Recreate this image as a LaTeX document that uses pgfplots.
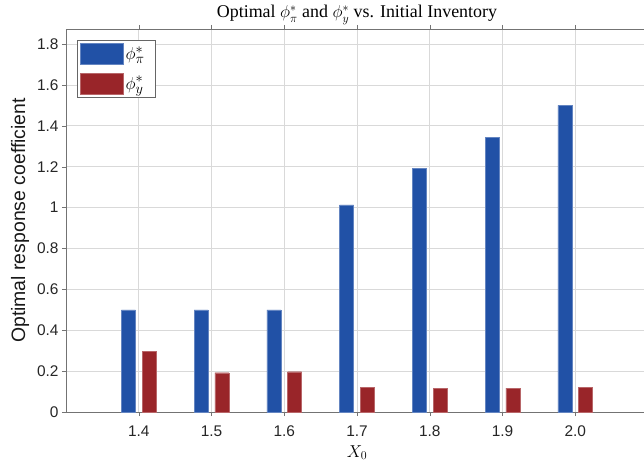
\documentclass[border=0pt]{standalone}
\usepackage{fontspec}
\setmainfont{Liberation Serif}
\setsansfont{Liberation Sans}
\usepackage{pgfplots}
\pgfplotsset{compat=1.18}
\definecolor{barblue}{RGB}{33,81,166}
\definecolor{barred}{RGB}{153,37,41}
\begin{document}
\begin{tikzpicture}
\begin{axis}[
  scale only axis, width=582bp, height=383bp,
  xmin=1.3, xmax=2.1, ymin=0, ymax=1.873,
  axis y line*=left,
  axis line style={black!55},
  tick align=outside, major tick length=4bp,
  tick style={black!55},
  xtick={1.4,1.5,1.6,1.7,1.8,1.9,2.0},
  xticklabels={1.4,1.5,1.6,1.7,1.8,1.9,2.0},
  ytick={0,0.2,0.4,0.6,0.8,1,1.2,1.4,1.6,1.8},
  yticklabels={0,0.2,0.4,0.6,0.8,1,1.2,1.4,1.6,1.8},
  grid=major, grid style={black!15, line width=0.6pt},
  tick label style={font=\sffamily\fontsize{15.5}{16}\selectfont, text=black!85},
  xticklabel style={yshift=-6bp},
  ylabel={Optimal response coefficient},
  ylabel style={at={(axis description cs:0,0.5)}, anchor=center, yshift=46bp, font=\sffamily\fontsize{19.5}{19.5}\selectfont, text=black!90},
  xlabel={$X_0$},
  xlabel style={font=\fontsize{18}{18}\selectfont, yshift=-2bp},
  title={Optimal $\phi^*_\pi$ and $\phi^*_y$ vs. Initial Inventory},
  title style={font=\fontsize{18}{18}\selectfont, yshift=-5bp},
  ybar=0pt, bar width=0.0192,
  legend style={at={(axis description cs:0,1)}, anchor=north west, xshift=11bp, yshift=-11bp,
    draw=black!60, fill=white, font=\fontsize{19}{19}\selectfont, row sep=8bp,
    inner xsep=3bp, inner ysep=3bp},
  legend cell align=left,
  legend image code/.code={\fill[#1] (0bp,-10.5bp) rectangle (43bp,10.5bp);},
]
\addplot[fill=barblue, draw=barblue!70!white, bar shift=-0.0143] coordinates {
  (1.4,0.500) (1.5,0.500) (1.6,0.500) (1.7,1.013) (1.8,1.190) (1.9,1.343) (2.0,1.500)};
\addlegendentry{$\phi^*_\pi\kern6bp$}
\addplot[fill=barred, draw=barred!70!white, bar shift=0.0143] coordinates {
  (1.4,0.298) (1.5,0.192) (1.6,0.197) (1.7,0.121) (1.8,0.114) (1.9,0.117) (2.0,0.121)};
\addlegendentry{$\phi^*_y\kern6bp$}
\end{axis}
\pgfresetboundingbox
\useasboundingbox ([xshift=-66bp,yshift=-51bp]current axis.south west) rectangle ([xshift=-4bp,yshift=29bp]current axis.north east);
\end{tikzpicture}
\end{document}
